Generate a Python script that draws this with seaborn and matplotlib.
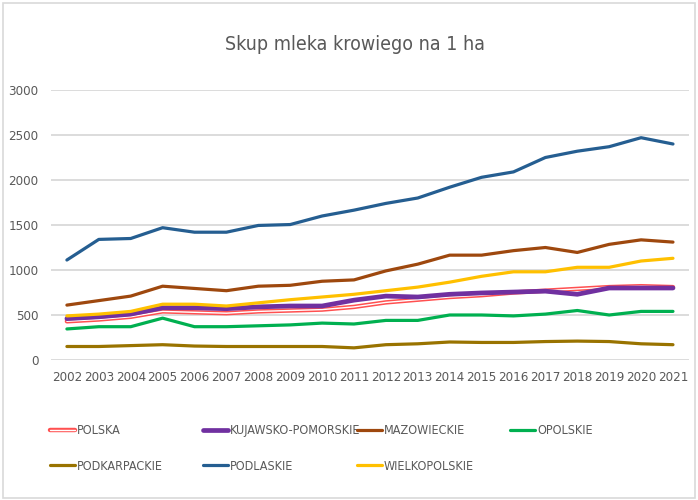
import numpy as np
import pandas as pd
import seaborn as sb
import matplotlib.pyplot as plt
from matplotlib.lines import Line2D
from matplotlib.legend_handler import HandlerTuple
from matplotlib.patches import Rectangle

years = list(range(2002, 2022))

polska = [430, 450, 480, 540, 530, 520, 540, 550, 560, 590, 640, 670, 700, 720, 750, 770, 790, 810, 820, 810]
kujawsko_pomorskie = [460, 480, 510, 580, 580, 570, 590, 600, 600, 665, 710, 700, 730, 745, 755, 765, 730, 800, 800, 800]
mazowieckie = [610, 660, 710, 820, 795, 770, 820, 830, 875, 890, 990, 1065, 1165, 1165, 1215, 1250, 1195, 1285, 1335, 1310]
opolskie = [345, 370, 370, 465, 370, 370, 380, 390, 410, 400, 440, 440, 500, 500, 490, 510, 550, 500, 540, 540]
podkarpackie = [150, 150, 160, 170, 155, 150, 150, 150, 150, 135, 170, 180, 200, 195, 195, 205, 210, 205, 180, 170]
podlaskie = [1111, 1340, 1350, 1470, 1420, 1420, 1495, 1505, 1600, 1665, 1740, 1800, 1920, 2030, 2090, 2250, 2320, 2370, 2470, 2400]
wielkopolskie = [490, 510, 540, 620, 620, 600, 635, 670, 700, 730, 770, 810, 865, 930, 980, 980, 1030, 1030, 1100, 1130]

names = ["POLSKA", "KUJAWSKO-POMORSKIE", "MAZOWIECKIE", "OPOLSKIE",
         "PODKARPACKIE", "PODLASKIE", "WIELKOPOLSKIE"]
series = [polska, kujawsko_pomorskie, mazowieckie, opolskie,
          podkarpackie, podlaskie, wielkopolskie]
colors = ["#FF5050", "#7030A0", "#9E480E", "#00B050", "#997300", "#255E91", "#FFC000"]
widths = [3.2, 3.4, 2.3, 2.3, 2.3, 2.3, 2.3]

sb.set_style("white")
plt.rcParams['font.family'] = ['DejaVu Sans']
plt.rcParams['font.stretch'] = 'condensed'
text_color = "#595959"

fig = plt.figure(figsize=(6.98, 5.0), dpi=100)
fig.patches.append(Rectangle((0.004, 0.004), 0.992, 0.99, transform=fig.transFigure,
                             fill=False, edgecolor="#D9D9D9", lw=1.2))
ax = fig.add_axes([0.073, 0.28, 0.914, 0.54])

handles = {}
for name, vals, col, lw in zip(names, series, colors, widths):
    df = pd.DataFrame({"rok": years, "wartosc": vals})
    sb.lineplot(data=df, x="rok", y="wartosc", color=col, lw=lw, ax=ax)
    h = Line2D([], [], color=col, lw=lw)
    if name == "POLSKA":
        # podwojna linia: czerwona z bialym srodkiem
        sb.lineplot(data=df, x="rok", y="wartosc", color="white", lw=1.0, ax=ax)
        h = (h, Line2D([], [], color="white", lw=1.0))
    handles[name] = h

ax.set_xlim(2001.5, 2021.5)
ax.set_ylim(0, 3000)
ax.set_xticks(years)
ax.set_xticklabels([str(y) for y in years])
ax.set_yticks(range(0, 3001, 500))
ax.yaxis.grid(True, color="#D9D9D9", lw=1.3)
ax.set_axisbelow(True)
for s in ax.spines.values():
    s.set_visible(False)
ax.tick_params(axis="both", length=0, labelsize=9.5, colors=text_color, pad=8)
ax.tick_params(axis="y", pad=9)
ax.set_xlabel("")
ax.set_ylabel("")

fig.text(0.508, 0.91, "Skup mleka krowiego na 1 ha", ha="center", va="center",
         fontsize=14, color=text_color)

# legenda: 4 kolumny o stalej szerokosci, jak w Excelu
cols = [["POLSKA", "PODKARPACKIE"], ["KUJAWSKO-POMORSKIE", "PODLASKIE"],
        ["MAZOWIECKIE", "WIELKOPOLSKIE"], ["OPOLSKIE"]]
col_x = [50, 203, 357, 510]
for cx, col_names in zip(col_x, cols):
    leg = fig.legend([handles[n] for n in col_names], col_names,
                     loc="upper left", bbox_to_anchor=(cx / 698, 1 - 424 / 500),
                     frameon=False, fontsize=9, handlelength=2.0, handletextpad=0.15,
                     labelspacing=1.8, borderaxespad=0, borderpad=0,
                     handler_map={tuple: HandlerTuple(ndivide=1, pad=0)})
    for t in leg.get_texts():
        t.set_color(text_color)

fig.savefig("out.png", dpi=100)
